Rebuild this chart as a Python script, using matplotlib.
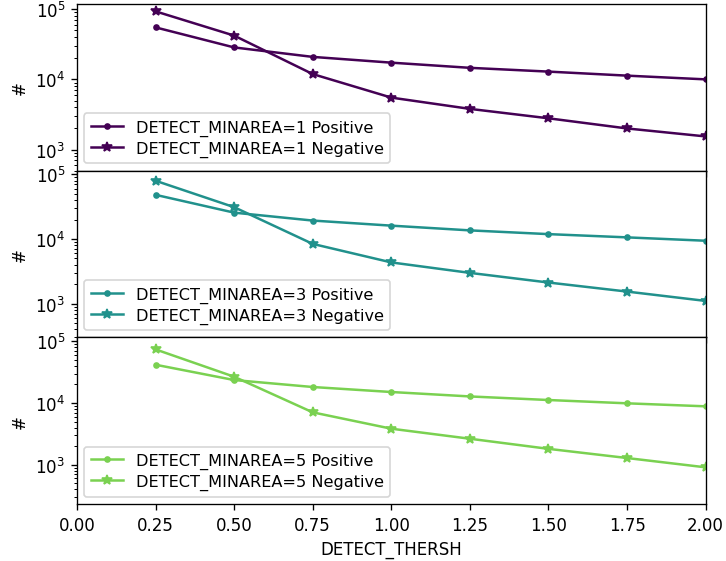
import numpy as np
import matplotlib
matplotlib.use("Agg")
import matplotlib.pyplot as plt

# umbrales de deteccion
thresh = [0.25, 0.5, 0.75, 1.0, 1.25, 1.5, 1.75, 2.0]
minareas = [1, 3, 5]

pos_1 = [55000, 28500, 20900, 17300, 14600, 12900, 11300, 10000]
neg_1 = [93000, 42000, 11900, 5500, 3800, 2790, 2000, 1540]
pos_3 = [48300, 25600, 19300, 16100, 13600, 11900, 10600, 9400]
neg_3 = [79800, 31100, 8400, 4340, 2990, 2120, 1535, 1100]
pos_5 = [41800, 23600, 18200, 15100, 12800, 11200, 9900, 8850]
neg_5 = [74100, 26700, 7070, 3840, 2640, 1810, 1285, 908]

positivos = [pos_1, pos_3, pos_5]
negativos = [neg_1, neg_3, neg_5]
colores = ['#440154', '#21918c', '#7ad151']
ylims = [(500, 1.18e5), (300, 1.14e5), (231, 1.16e5)]

fig, axes = plt.subplots(3, 1, sharex=True, figsize=(6.05, 4.683), dpi=120)
fig.subplots_adjust(left=0.106, right=0.972, top=0.991, bottom=0.1014, hspace=0)

for ax, ma, pos, neg, c, yl in zip(axes, minareas, positivos, negativos, colores, ylims):
    ax.plot(thresh, pos, marker='.', color=c, label=f'DETECT_MINAREA={ma} Positive')
    ax.plot(thresh, neg, marker='*', color=c, label=f'DETECT_MINAREA={ma} Negative')
    ax.set_yscale('log')
    ax.set_ylim(*yl)
    ax.set_ylabel('#')
    ax.legend(loc='lower left', fontsize=9.7, labelspacing=0.3, borderaxespad=0.45)

axes[-1].set_xlim(0, 2)
axes[-1].set_xlabel('DETECT_THERSH')

fig.savefig('out.png')
